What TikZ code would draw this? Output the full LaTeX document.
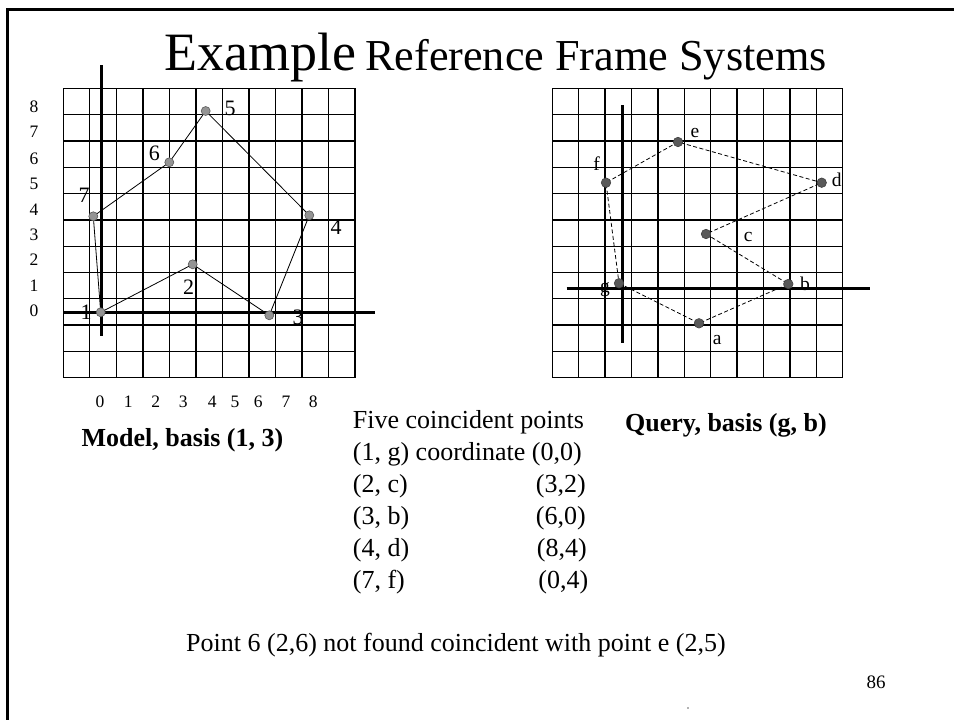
\documentclass[tikz,border=0pt]{standalone}
\usepackage{fontspec}
\setmainfont{Liberation Serif}
\begin{document}
\begin{tikzpicture}[x=1pt,y=-1pt,
  gridline/.style={line width=1.3pt},
  axisline/.style={line width=3pt},
  frameline/.style={line width=2.6pt},
  mdot/.style={circle,inner sep=0pt,minimum size=9pt,draw=black!65,fill=black!42,line width=0.6pt},
  qdot/.style={circle,inner sep=0pt,minimum size=9.5pt,draw=black!75,fill=black!65,line width=0.6pt},
  medge/.style={line width=0.8pt},
  qedge/.style={line width=0.8pt,dash pattern=on 4pt off 2.5pt},
  plbl/.style={inner sep=0pt,font=\fontsize{22}{24}\selectfont},
  qlbl/.style={inner sep=0pt,font=\fontsize{19.5}{21}\selectfont},
  axlbl/.style={inner sep=0pt,font=\fontsize{17.5}{19}\selectfont},
  body/.style={inner sep=0pt,font=\fontsize{26}{30}\selectfont},
  bodyb/.style={inner sep=0pt,font=\fontsize{26}{30}\selectfont\bfseries}]
\useasboundingbox (0,0) rectangle (954,720);

% slide frame: top and left edges
\draw[frameline] (954,9.5) -- (7.3,9.5) -- (7.3,720);

% title
\node[anchor=base west,inner sep=0pt,font=\fontsize{54}{58}\selectfont] (title) at (164,70) {Example};
\node[anchor=base west,inner sep=0pt,font=\fontsize{44.2}{48}\selectfont] (subtitle) at (365,70) {Reference Frame Systems};

% ---------------- model grid ----------------
\foreach \i in {0,...,11} {
  \draw[gridline] ({63.3+\i*26.52},88.3) -- ({63.3+\i*26.52},377.7);
  \draw[gridline] (63.3,{88.3+\i*26.31}) -- (355,{88.3+\i*26.31});
}
\draw[axisline] (101.7,65) -- (101.7,336);
\draw[axisline] (63,312.3) -- (375,312.3);

% y-axis numbers
\foreach \v/\yy in {8/106.7,7/131.7,6/158.3,5/184,4/209.3,3/235,2/260,1/285.7,0/311}
  \node[axlbl] (my\v) at (34,\yy) {\v};
% x-axis numbers
\foreach \v/\xx in {0/100,1/128.3,2/155.7,3/183.3,4/212.3,5/235,6/258.3,7/286,8/313.3}
  \node[axlbl] (mx\v) at (\xx,401.7) {\v};

% model points
\coordinate (m1) at (100.7,312.3);
\coordinate (m2) at (192.7,264.3);
\coordinate (m3) at (269.3,315.3);
\coordinate (m4) at (309.3,215.3);
\coordinate (m5) at (205.7,111);
\coordinate (m6) at (169.3,162.3);
\coordinate (m7) at (93.3,216.3);
\draw[medge] (m1) -- (m2) -- (m3) -- (m4) -- (m5) -- (m6) -- (m7) -- (m1);
\foreach \p in {1,...,7} \node[mdot] (dm\p) at (m\p) {};
\node[plbl] (l1) at (86,312) {1};
\node[plbl] (l2) at (188.7,287) {2};
\node[plbl] (l3) at (298,317) {3};
\node[plbl] (l4) at (336,227) {4};
\node[plbl] (l5) at (230,108) {5};
\node[plbl] (l6) at (154.3,153) {6};
\node[plbl] (l7) at (84,195) {7};

% ---------------- query grid ----------------
\foreach \i in {0,...,11} {
  \draw[gridline] ({552.3+\i*26.4},88.3) -- ({552.3+\i*26.4},377.7);
  \draw[gridline] (552.3,{88.3+\i*26.31}) -- (842.7,{88.3+\i*26.31});
}
\draw[axisline] (622.3,105) -- (622.3,343.3);
\draw[axisline] (566.7,288.3) -- (870,288.3);

\coordinate (qa) at (699,323.3);
\coordinate (qb) at (788.3,284);
\coordinate (qc) at (706,234);
\coordinate (qd) at (821.7,182.7);
\coordinate (qe) at (678,142);
\coordinate (qf) at (606,182.7);
\coordinate (qg) at (619,283.3);
\draw[qedge] (qg) -- (qa) -- (qb) -- (qc) -- (qd) -- (qe) -- (qf) -- (qg);
\foreach \p in {a,b,c,d,e,f,g} \node[qdot] (dq\p) at (q\p) {};
\node[qlbl] (la) at (717.3,340) {a};
\node[qlbl] (lb) at (805,284) {b};
\node[qlbl] (lc) at (748.3,236.7) {c};
\node[qlbl] (ld) at (836.7,180) {d};
\node[qlbl] (le) at (695,133.3) {e};
\node[qlbl] (lf) at (596.7,163.3) {f};
\node[qlbl] (lg) at (605,290) {g};

% ---------------- captions ----------------
\node[bodyb,anchor=base west] (model) at (81.5,446) {Model, basis (1, 3)};
\node[bodyb,anchor=base west] (query) at (625,431) {Query, basis (g, b)};

\node[body,anchor=base west] (r1) at (352.7,428) {Five coincident points};
\node[body,anchor=base west] (r2) at (352.7,460) {(1, g) coordinate (0,0)};
\node[body,anchor=base west] (r3) at (352.7,492) {(2, c)};
\node[body,anchor=base west] (r4) at (352.7,524) {(3, b)};
\node[body,anchor=base west] (r5) at (352.7,556) {(4, d)};
\node[body,anchor=base west] (r6) at (352.7,588) {(7, f)};
\node[body,anchor=base east] (c3) at (586,492) {(3,2)};
\node[body,anchor=base east] (c4) at (586,524) {(6,0)};
\node[body,anchor=base east] (c5) at (587,556) {(8,4)};
\node[body,anchor=base east] (c6) at (588.5,588) {(0,4)};

\node[body,anchor=base west] (note) at (186,651) {Point 6 (2,6) not found coincident with point e (2,5)};
\node[inner sep=0pt,font=\fontsize{19}{21}\selectfont] (page) at (876,682) {86};
\fill[black!60] (688,708) circle (0.9);
\end{tikzpicture}
\end{document}
